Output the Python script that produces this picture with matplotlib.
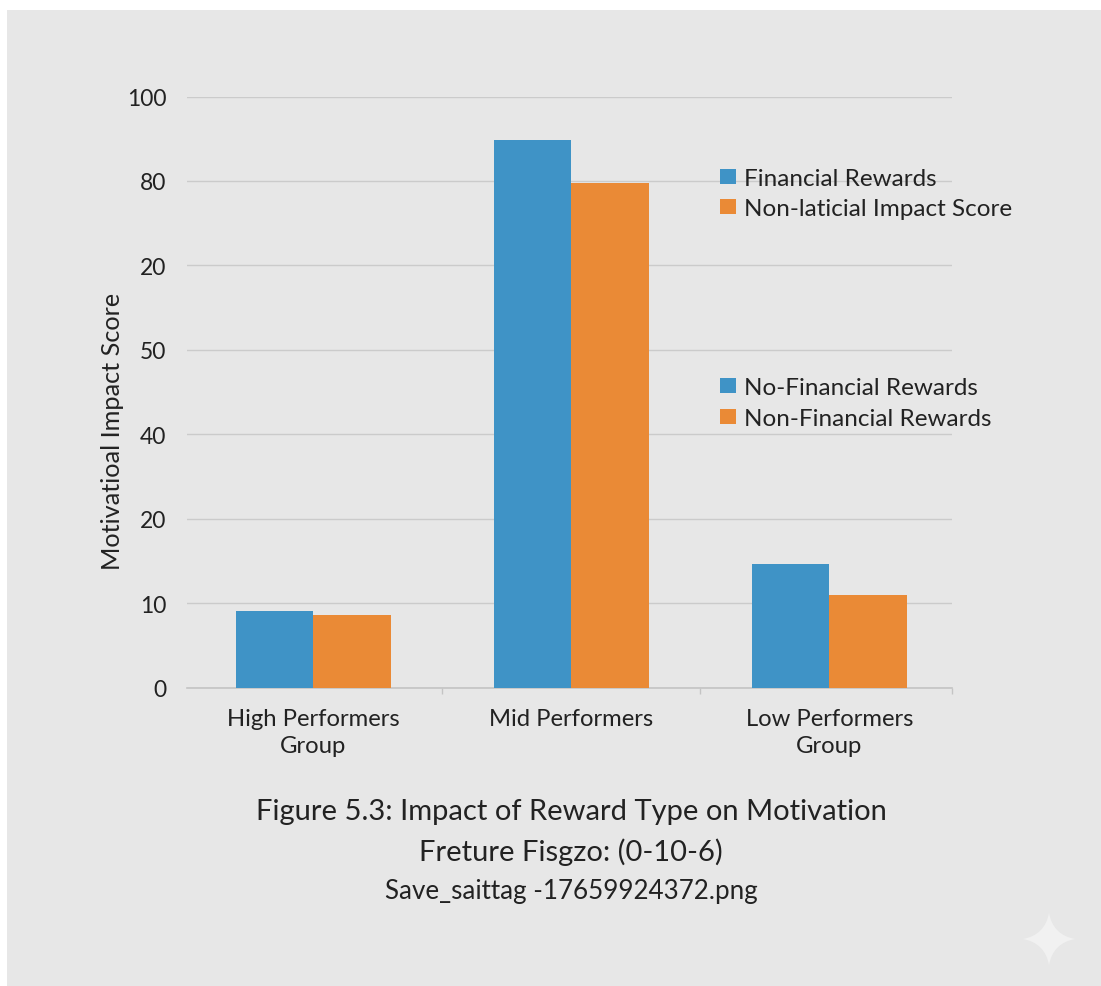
import numpy as np
import matplotlib.pyplot as plt
from matplotlib.patches import Patch, PathPatch, Rectangle
from matplotlib.path import Path

plt.rcParams['font.family'] = ['Lato', 'DejaVu Sans']

groups = ["High Performers\nGroup", "Mid Performers", "Low Performers\nGroup"]
# heights in axis units: gridlines are evenly spaced, 10 units apart
blue_values = [9.1, 64.9, 14.6]
orange_values = [8.6, 59.8, 11.0]
tick_positions = [0, 10, 20, 30, 40, 50, 60, 70]
tick_labels = ["0", "10", "20", "40", "50", "20", "80", "100"]
legend_top = ["Financial Rewards", "Non-laticial Impact Score"]
legend_bottom = ["No-Financial Rewards", "Non-Financial Rewards"]
caption = ["Figure 5.3: Impact of Reward Type on Motivation",
           "Freture Fisgzo: (0-10-6)",
           "Save_saittag -17659924372.png"]

BLUE = "#3f93c6"
ORANGE = "#ea8a36"
TEXT = "#222222"
W, H = 1101, 987

fig = plt.figure(figsize=(W / 100, H / 100), dpi=100, facecolor="white")

# grey panel behind everything, leaving a thin white edge top and left
fig.patches.append(Rectangle((7 / W, 0), 1 - 7 / W, 1 - 11 / H, transform=fig.transFigure,
                             facecolor="#e7e7e7", edgecolor="none", zorder=-10))

ax = fig.add_axes([187 / W, 1 - 688.5 / H, 765 / W, 591 / H])
ax.patch.set_alpha(0)

x = np.arange(len(groups))
bar_w = 0.3
ax.bar(x - bar_w / 2, blue_values, bar_w, color=BLUE, zorder=3)
ax.bar(x + bar_w / 2, orange_values, bar_w, color=ORANGE, zorder=3)

ax.set_xlim(-0.49, 2.475)
ax.set_ylim(0, 70)
ax.set_yticks(tick_positions, tick_labels, fontsize=16.5, color=TEXT)
ax.set_xticks(x, groups, fontsize=17.2, color=TEXT, linespacing=1.35)
ax.set_xticks([0.5, 1.5, 2.475], minor=True)
ax.tick_params(axis="y", length=0, pad=15)
ax.tick_params(axis="x", which="major", length=0, pad=15)
ax.tick_params(axis="x", which="minor", length=4, color="#c4c4c4", width=1)
ax.grid(axis="y", color="#cbcbcb", linewidth=1.0, zorder=0)
ax.set_axisbelow(True)
for side in ["top", "right", "left"]:
    ax.spines[side].set_visible(False)
ax.spines["bottom"].set_color("#c4c4c4")
ax.spines["bottom"].set_linewidth(1.2)

fig.text(113 / W, 1 - 431 / H, "Motivatioal Impact Score", rotation=90, ha="center", va="center",
         fontsize=18.2, color=TEXT)


def add_legend(labels, top_y):
    handles = [Patch(facecolor=BLUE), Patch(facecolor=ORANGE)]
    leg = fig.legend(handles, labels, loc="upper left", bbox_to_anchor=(720 / W, 1 - top_y / H),
                     frameon=False, fontsize=17.5, handlelength=0.66, handleheight=0.57,
                     handletextpad=0.33, labelspacing=0.38, borderpad=0, borderaxespad=0,
                     labelcolor=TEXT)
    return leg


add_legend(legend_top, 169)
add_legend(legend_bottom, 378.5)

for line, y, size in zip(caption, [812, 852, 892], [21, 21, 18.7]):
    fig.text(571 / W, 1 - y / H, line, ha="center", va="center", fontsize=size, color=TEXT)

# four-pointed sparkle in the lower right corner
cx, cy, r = 1049, 940, 26
sparkle = [(cx, cy + r), (cx + 4, cy + 4), (cx + r, cy), (cx + 4, cy - 4), (cx, cy - r),
           (cx - 4, cy - 4), (cx - r, cy), (cx - 4, cy + 4), (cx, cy + r)]
codes = [Path.MOVETO] + [Path.CURVE3] * 8
sparkle = [(px / W, 1 - py / H) for px, py in sparkle]
fig.patches.append(PathPatch(Path(sparkle, codes), transform=fig.transFigure,
                             facecolor="#f1f1f1", edgecolor="none", zorder=-5))

fig.savefig("out.png", dpi=100, facecolor=fig.get_facecolor())
